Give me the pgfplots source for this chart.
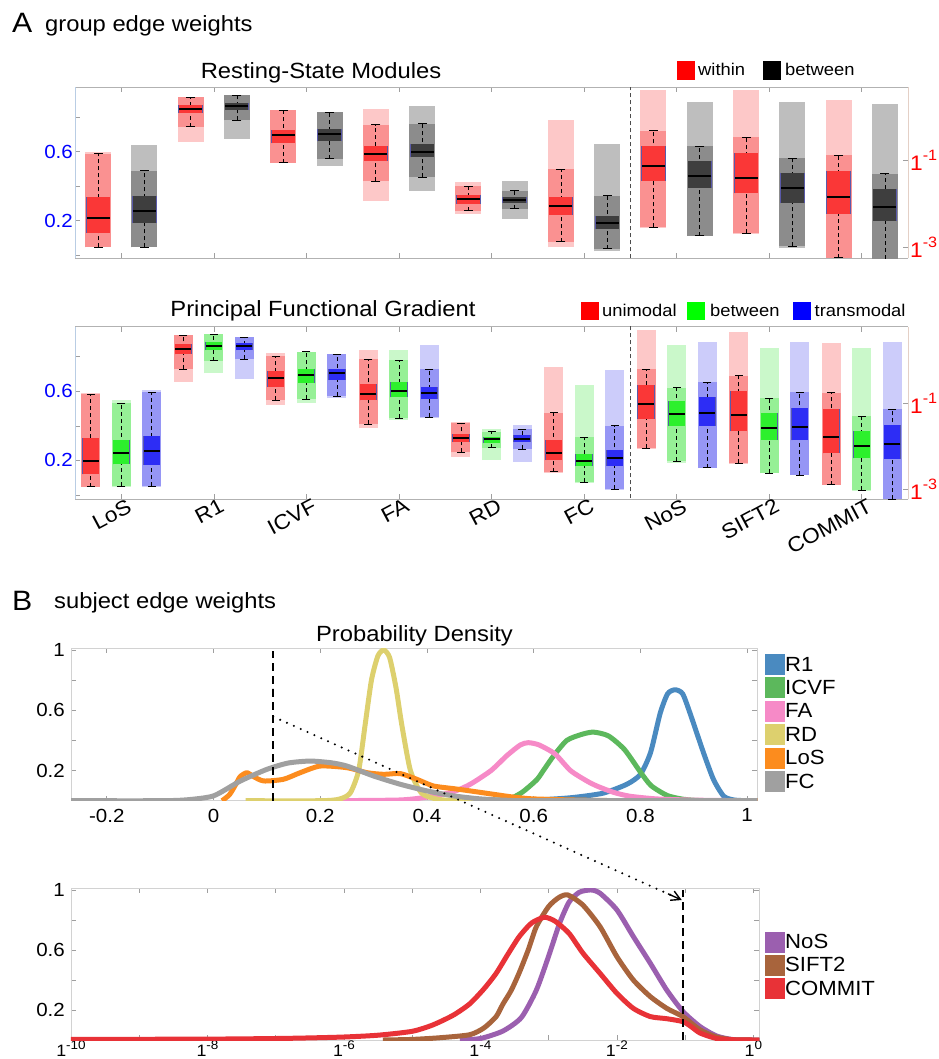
\documentclass[border=0pt]{standalone}
\usepackage{fontspec}
\setmainfont{Liberation Sans}[FakeStretch=1.08]
\usepackage{pgfplots}
\pgfplotsset{compat=1.18}
\usetikzlibrary{arrows.meta}

\definecolor{rB}{RGB}{250,55,55}\definecolor{rM}{RGB}{250,145,145}\definecolor{rL}{RGB}{253,200,200}
\definecolor{kB}{RGB}{62,62,62}\definecolor{kM}{RGB}{140,140,140}\definecolor{kL}{RGB}{190,190,190}
\definecolor{gB}{RGB}{45,240,45}\definecolor{gM}{RGB}{150,240,150}\definecolor{gL}{RGB}{202,248,202}
\definecolor{bB}{RGB}{45,45,245}\definecolor{bM}{RGB}{150,150,245}\definecolor{bL}{RGB}{204,204,250}
\definecolor{edgec}{RGB}{90,90,170}
\definecolor{axL}{RGB}{185,205,228}
\definecolor{axR}{RGB}{228,208,198}
\definecolor{cR1}{RGB}{74,138,192}
\definecolor{cICVF}{RGB}{92,184,92}
\definecolor{cFA}{RGB}{246,138,199}
\definecolor{cRD}{RGB}{221,208,110}
\definecolor{cLoS}{RGB}{252,140,30}
\definecolor{cFC}{RGB}{160,160,160}
\definecolor{cNoS}{RGB}{155,95,175}
\definecolor{cSIFT}{RGB}{168,100,60}
\definecolor{cCOM}{RGB}{232,50,55}

\newcommand{\rlab}[1]{1\raisebox{10pt}{\fontsize{15}{15}\selectfont #1}}
\newcommand{\blab}[1]{1\raisebox{6.5pt}{\fontsize{12.5}{12.5}\selectfont #1}}

% pos, colour, cloud low, cloud high, lower whisker, q1, median, q3, upper whisker
\newcommand{\bx}[9]{%
  \addplot[draw=#2L, line width=\cw] coordinates {(#1,#3) (#1,#4)};
  \addplot[draw=#2M, line width=\cw] coordinates {(#1,#5) (#1,#9)};
  \addplot[draw=black, line width=0.7pt, dash pattern=on 4pt off 3pt] coordinates {(#1,#5) (#1,#9)};
  \addplot[only marks, mark=-, mark size=\capw, mark options={draw=black, line width=0.8pt}] coordinates {(#1,#5) (#1,#9)};
  \addplot[draw=edgec, line width=\bwo] coordinates {(#1,#6) (#1,#8)};
  \addplot[draw=#2B, line width=\bw] coordinates {(#1,#6) (#1,#8)};
  \addplot[only marks, mark=-, mark size=\mw, mark options={draw=black, line width=2pt}] coordinates {(#1,#7)};
}

\pgfplotsset{
  base/.style={scale only axis, tick align=inside, major tick length=5pt,
    every tick/.append style={gray!75, line width=0.6pt},
    tick label style={font=\fontsize{19}{19}\selectfont},
    /pgf/number format/assume math mode=true},
}

\begin{document}
\begin{tikzpicture}
\path[use as bounding box] (0,0) rectangle (938pt,-1059pt);

% ---------------- Panel A, top ----------------
\def\cw{26pt}\def\bw{23pt}\def\bwo{24.4pt}\def\mw{11.5pt}\def\capw{4.5pt}
\begin{axis}[base, at={(75pt,-258pt)}, anchor=south west, width=833pt, height=171pt,
  xmin=-0.5, xmax=8.5, ymin=-0.017, ymax=0.974,
  xtick={0,1,2,3,4,5,6,7,8}, xticklabels={}, xtick pos=both,
  ytick={0,0.2,0.4,0.6,0.8}, yticklabels={,0.2,,0.6,}, ytick pos=left,
  yticklabel style={text=blue, inner sep=2pt},
  separate axis lines, x axis line style={gray!60, line width=0.8pt},
  y axis line style={axL, line width=0.8pt}]
\addplot[draw=black!70, line width=0.8pt, dash pattern=on 4pt off 3pt] coordinates {(5.5,-0.1) (5.5,1.1)};
\bx{-0.25}{r}{0.045}{0.600}{0.045}{0.129}{0.213}{0.335}{0.587}
\bx{0.25}{k}{0.045}{0.635}{0.045}{0.187}{0.258}{0.345}{0.490}
\bx{0.75}{r}{0.654}{0.915}{0.745}{0.822}{0.849}{0.872}{0.915}
\bx{1.25}{k}{0.674}{0.925}{0.780}{0.842}{0.863}{0.884}{0.925}
\bx{1.75}{r}{0.533}{0.842}{0.536}{0.648}{0.695}{0.726}{0.838}
\bx{2.25}{k}{0.519}{0.828}{0.559}{0.660}{0.703}{0.733}{0.828}
\bx{2.75}{r}{0.316}{0.847}{0.428}{0.548}{0.584}{0.631}{0.756}
\bx{3.25}{k}{0.374}{0.861}{0.451}{0.567}{0.600}{0.641}{0.761}
\bx{3.75}{r}{0.239}{0.422}{0.258}{0.297}{0.324}{0.351}{0.399}
\bx{4.25}{k}{0.210}{0.428}{0.268}{0.304}{0.322}{0.339}{0.374}
\bx{4.75}{r}{0.045}{0.780}{0.077}{0.233}{0.283}{0.339}{0.496}
\bx{5.25}{k}{0.022}{0.645}{0.036}{0.150}{0.188}{0.225}{0.343}
\bx{5.75}{r}{0.155}{0.958}{0.161}{0.430}{0.517}{0.631}{0.720}
\bx{6.25}{k}{0.110}{0.886}{0.113}{0.391}{0.461}{0.546}{0.631}
\bx{6.75}{r}{0.120}{0.958}{0.126}{0.357}{0.449}{0.590}{0.683}
\bx{7.25}{k}{0.040}{0.886}{0.051}{0.304}{0.386}{0.478}{0.563}
\bx{7.75}{r}{-0.010}{0.896}{-0.016}{0.239}{0.335}{0.486}{0.579}
\bx{8.25}{k}{-0.020}{0.877}{-0.022}{0.198}{0.279}{0.381}{0.471}
\end{axis}
\begin{axis}[base, at={(75pt,-258pt)}, anchor=south west, width=833pt, height=171pt,
  xmin=0, xmax=1, ymin=0, ymax=1, axis x line=none, axis y line*=right,
  ytick={0.0626,0.569}, yticklabels={\rlab{-3},\rlab{-1}},
  yticklabel style={text=red, font=\fontsize{21}{21}\selectfont, inner sep=2pt},
  y axis line style={axR, line width=0.8pt}]
\end{axis}

% ---------------- Panel A, bottom ----------------
\def\cw{19pt}\def\bw{16pt}\def\bwo{17.2pt}\def\mw{8pt}\def\capw{4pt}
\begin{axis}[base, at={(75pt,-499.3pt)}, anchor=south west, width=833pt, height=172.6pt,
  xmin=-0.5, xmax=8.5, ymin=-0.025, ymax=0.974,
  xtick={0,1,2,3,4,5,6,7,8}, xticklabels={LoS,R1,ICVF,FA,RD,FC,NoS,SIFT2,COMMIT}, xtick pos=both,
  xticklabel style={rotate=28, anchor=north east, font=\fontsize{21}{21}\selectfont, inner sep=1pt, xshift=6pt},
  ytick={0,0.2,0.4,0.6,0.8}, yticklabels={,0.2,,0.6,}, ytick pos=left,
  yticklabel style={text=blue, inner sep=2pt},
  separate axis lines, x axis line style={gray!60, line width=0.8pt},
  y axis line style={axL, line width=0.8pt}]
\addplot[draw=black!70, line width=0.8pt, dash pattern=on 4pt off 3pt] coordinates {(5.5,-0.1) (5.5,1.1)};
\bx{-0.33}{r}{0.045}{0.588}{0.048}{0.120}{0.195}{0.332}{0.584}
\bx{0}{g}{0.045}{0.549}{0.052}{0.177}{0.241}{0.320}{0.530}
\bx{0.33}{b}{0.045}{0.607}{0.052}{0.175}{0.253}{0.343}{0.594}
\bx{0.67}{r}{0.655}{0.925}{0.727}{0.814}{0.843}{0.873}{0.925}
\bx{1}{g}{0.704}{0.931}{0.777}{0.839}{0.864}{0.887}{0.930}
\bx{1.33}{b}{0.669}{0.916}{0.785}{0.839}{0.860}{0.881}{0.912}
\bx{1.67}{r}{0.521}{0.823}{0.549}{0.626}{0.677}{0.715}{0.804}
\bx{2}{g}{0.530}{0.829}{0.555}{0.650}{0.696}{0.729}{0.829}
\bx{2.33}{b}{0.560}{0.814}{0.573}{0.665}{0.704}{0.731}{0.814}
\bx{2.67}{r}{0.386}{0.839}{0.409}{0.548}{0.582}{0.642}{0.785}
\bx{3}{g}{0.434}{0.839}{0.445}{0.565}{0.600}{0.654}{0.779}
\bx{3.33}{b}{0.447}{0.868}{0.449}{0.555}{0.592}{0.625}{0.729}
\bx{3.67}{r}{0.222}{0.424}{0.247}{0.308}{0.332}{0.351}{0.414}
\bx{4}{g}{0.202}{0.380}{0.274}{0.303}{0.322}{0.337}{0.366}
\bx{4.33}{b}{0.193}{0.405}{0.266}{0.305}{0.324}{0.345}{0.380}
\bx{4.67}{r}{0.130}{0.742}{0.135}{0.202}{0.245}{0.318}{0.476}
\bx{5}{g}{0.067}{0.636}{0.073}{0.168}{0.198}{0.237}{0.335}
\bx{5.33}{b}{0.029}{0.723}{0.033}{0.168}{0.216}{0.260}{0.401}
\bx{5.67}{r}{0.265}{0.954}{0.272}{0.438}{0.526}{0.636}{0.729}
\bx{6}{g}{0.187}{0.868}{0.197}{0.401}{0.468}{0.544}{0.621}
\bx{6.33}{b}{0.154}{0.887}{0.158}{0.401}{0.476}{0.567}{0.652}
\bx{6.67}{r}{0.180}{0.945}{0.183}{0.368}{0.461}{0.601}{0.690}
\bx{7}{g}{0.125}{0.848}{0.127}{0.320}{0.389}{0.474}{0.559}
\bx{7.33}{b}{0.116}{0.887}{0.116}{0.316}{0.395}{0.505}{0.594}
\bx{7.67}{r}{0.058}{0.877}{0.060}{0.241}{0.335}{0.497}{0.592}
\bx{8}{g}{0.025}{0.848}{0.029}{0.212}{0.283}{0.370}{0.455}
\bx{8.33}{b}{0.020}{0.887}{-0.025}{0.210}{0.295}{0.405}{0.497}
\end{axis}
\begin{axis}[base, at={(75pt,-499.3pt)}, anchor=south west, width=833pt, height=172.6pt,
  xmin=0, xmax=1, ymin=0, ymax=1, axis x line=none, axis y line*=right,
  ytick={0.058,0.556}, yticklabels={\rlab{-3},\rlab{-1}},
  yticklabel style={text=red, font=\fontsize{21}{21}\selectfont, inner sep=2pt},
  y axis line style={axR, line width=0.8pt}]
\end{axis}

% ---------------- Panel B, top ----------------
\begin{axis}[base, at={(71pt,-800.7pt)}, anchor=south west, width=686.3pt, height=152.4pt,
  xmin=-0.267, xmax=1.019, ymin=0, ymax=1.011,
  xtick={-0.2,0,0.2,0.4,0.6,0.8,1}, xticklabels={-0.2,0,0.2,0.4,0.6,0.8,1},
  ytick={0.2,0.4,0.6,0.8,1}, yticklabels={0.2,,0.6,,1},
  axis line style={gray!35, line width=0.8pt},
  xticklabel style={inner sep=2pt, yshift=-6pt},
  yticklabel style={inner sep=2pt, xshift=-4pt},
  every axis plot/.append style={line width=5pt, smooth, tension=0.4, line join=round}]
\addplot[cR1] coordinates {(0.45,0) (0.6,0.005) (0.67,0.02) (0.73,0.05) (0.775,0.11) (0.8,0.175) (0.819,0.32) (0.837,0.58) (0.851,0.71) (0.865,0.736) (0.879,0.71) (0.893,0.58) (0.918,0.32) (0.937,0.14) (0.956,0.03) (0.975,0.005) (1.0,0) (1.02,0)};
\addplot[cICVF] coordinates {(0.45,0) (0.54,0.005) (0.56,0.02) (0.58,0.06) (0.606,0.14) (0.62,0.21) (0.637,0.296) (0.662,0.4) (0.69,0.44) (0.712,0.455) (0.74,0.43) (0.77,0.34) (0.8,0.19) (0.82,0.1) (0.85,0.035) (0.88,0.01) (0.92,0) (1.02,0)};
\addplot[cFA] coordinates {(0.2,0) (0.35,0.005) (0.412,0.03) (0.45,0.06) (0.481,0.109) (0.52,0.2) (0.55,0.3) (0.575,0.37) (0.59,0.385) (0.61,0.37) (0.64,0.31) (0.669,0.2) (0.7,0.13) (0.72,0.095) (0.75,0.055) (0.78,0.03) (0.83,0.012) (0.9,0.004) (1.0,0) (1.02,0)};
\addplot[cRD] coordinates {(0.06,0) (0.2,0) (0.235,0.01) (0.256,0.05) (0.272,0.2) (0.284,0.5) (0.296,0.8) (0.308,0.96) (0.319,1.0) (0.33,0.95) (0.342,0.75) (0.353,0.5) (0.369,0.2) (0.39,0.05) (0.42,0.01) (0.46,0) (0.55,0)};
\addplot[cLoS] coordinates {(0.016,0) (0.03,0.04) (0.042,0.11) (0.05,0.16) (0.0626,0.186) (0.075,0.16) (0.094,0.131) (0.131,0.142) (0.1625,0.186) (0.2,0.23) (0.25,0.219) (0.2875,0.186) (0.319,0.175) (0.35,0.18) (0.381,0.142) (0.412,0.098) (0.45,0.08) (0.481,0.065) (0.52,0.045) (0.56,0.025) (0.6,0.012) (0.7,0.003) (0.8,0) (1.02,0)};
\addplot[cFC] coordinates {(-0.267,0) (-0.1,0) (-0.05,0.006) (0,0.032) (0.05,0.13) (0.1,0.208) (0.14,0.25) (0.181,0.263) (0.22,0.252) (0.25,0.23) (0.3,0.164) (0.35,0.109) (0.4,0.065) (0.45,0.032) (0.5,0.012) (0.55,0.003) (0.6,0) (1.02,0)};
\addplot[black, line width=2.2pt, dash pattern=on 8pt off 5pt] coordinates {(0.112,0) (0.112,0.993)};
\end{axis}

% ---------------- Panel B, bottom ----------------
\begin{axis}[base, at={(71pt,-1040pt)}, anchor=south west, width=688.3pt, height=151.7pt,
  xmode=log, xmin=1e-10, xmax=1.22, ymin=0, ymax=1.011, xminorticks=false,
  xtick={1e-10,1e-9,1e-8,1e-7,1e-6,1e-5,1e-4,1e-3,1e-2,1e-1,1},
  xticklabels={\blab{-10},,\blab{-8},,\blab{-6},,\blab{-4},,\blab{-2},,\blab{0}},
  ytick={0.2,0.4,0.6,0.8,1}, yticklabels={0.2,,0.6,,1},
  axis line style={gray!35, line width=0.8pt},
  xticklabel style={inner sep=1pt, font=\fontsize{16.5}{16.5}\selectfont},
  yticklabel style={inner sep=2pt, xshift=-4pt},
  every axis plot/.append style={line width=5pt, smooth, tension=0.4, line join=round}]
\addplot[cNoS] coordinates {(5.012e-5,0) (1e-4,0.01) (2.138e-4,0.06) (3.981e-4,0.15) (6.607e-4,0.333) (1e-3,0.56) (1.445e-3,0.778) (1.995e-3,0.92) (2.818e-3,0.985) (4.169e-3,1.0) (5.662e-3,0.978) (1e-2,0.867) (1.738e-2,0.69) (3.090e-2,0.511) (5.370e-2,0.333) (9.333e-2,0.189) (0.1660,0.089) (0.2884,0.027) (0.5012,0.003) (1,0) (1.22,0)};
\addplot[cSIFT] coordinates {(3.715e-6,0) (1e-5,0.004) (2.512e-5,0.015) (6.918e-5,0.035) (1.122e-4,0.08) (1.698e-4,0.156) (2.138e-4,0.24) (2.818e-4,0.33) (3.715e-4,0.45) (5.012e-4,0.6) (6.607e-4,0.756) (1e-3,0.89) (1.413e-3,0.95) (1.905e-3,0.967) (3.162e-3,0.9) (5.662e-3,0.755) (1e-2,0.555) (1.738e-2,0.4) (3.090e-2,0.289) (5.370e-2,0.211) (9.333e-2,0.155) (0.1660,0.067) (0.2884,0.02) (0.5012,0.002) (1,0) (1.22,0)};
\addplot[cCOM] coordinates {(1e-10,0.004) (1e-8,0.006) (1e-7,0.01) (3.162e-7,0.014) (1e-6,0.02) (3.162e-6,0.032) (1e-5,0.058) (1.995e-5,0.1) (3.981e-5,0.165) (6.918e-5,0.24) (1.122e-4,0.34) (1.698e-4,0.444) (2.512e-4,0.57) (3.715e-4,0.69) (5.623e-4,0.78) (8.710e-4,0.818) (1.259e-3,0.79) (1.995e-3,0.71) (3.162e-3,0.58) (5.662e-3,0.444) (1e-2,0.311) (1.738e-2,0.211) (3.090e-2,0.156) (5.370e-2,0.142) (9.333e-2,0.122) (0.1259,0.085) (0.1660,0.046) (0.2884,0.01) (0.5012,0.002) (1,0) (1.22,0)};
\addplot[black, line width=2.2pt, dash pattern=on 8pt off 5pt] coordinates {(0.092,0) (0.092,1.0)};
\end{axis}

% ---------------- annotations ----------------
\node[anchor=base west, inner sep=0] at (12pt,-33pt) {\fontsize{28}{28}\selectfont A};
\node[anchor=base west, inner sep=0] at (45pt,-31.7pt) {\fontsize{22}{22}\selectfont group edge weights};
\node[anchor=base, inner sep=0] at (321pt,-78.3pt) {\fontsize{22}{22}\selectfont Resting-State Modules};
\node[anchor=base, inner sep=0] at (323pt,-316.7pt) {\fontsize{22}{22}\selectfont Principal Functional Gradient};
\node[anchor=base west, inner sep=0] at (12pt,-610pt) {\fontsize{28}{28}\selectfont B};
\node[anchor=base west, inner sep=0] at (54pt,-608.3pt) {\fontsize{22}{22}\selectfont subject edge weights};
\node[anchor=base, inner sep=0] at (414.5pt,-641pt) {\fontsize{22}{22}\selectfont Probability Density};

% legend A top
\fill[red] (677pt,-61pt) rectangle (695pt,-80pt);
\node[anchor=base west, inner sep=0] at (698pt,-76pt) {\fontsize{17}{17}\selectfont within};
\fill[black] (763pt,-61pt) rectangle (781pt,-80pt);
\node[anchor=base west, inner sep=0] at (785pt,-76pt) {\fontsize{17}{17}\selectfont between};
% legend A bottom
\fill[red] (581pt,-301.7pt) rectangle (599pt,-320pt);
\node[anchor=base west, inner sep=0] at (602pt,-316.7pt) {\fontsize{17}{17}\selectfont unimodal};
\fill[green] (687pt,-301.7pt) rectangle (705pt,-320pt);
\node[anchor=base west, inner sep=0] at (710pt,-316.7pt) {\fontsize{17}{17}\selectfont between};
\fill[blue] (793pt,-301.7pt) rectangle (811pt,-320pt);
\node[anchor=base west, inner sep=0] at (814.5pt,-316.7pt) {\fontsize{17}{17}\selectfont transmodal};

% legend B top
\foreach \c/\t/\yt in {cR1/R1/654, cICVF/ICVF/677.4, cFA/FA/700.8, cRD/RD/724.2, cLoS/LoS/747.6, cFC/FC/771}{
  \fill[\c] (765pt,-\yt pt) rectangle (785pt,-\yt pt-21pt);
  \node[anchor=base west, inner sep=0] at (785pt,-\yt pt-17pt) {\fontsize{20.5}{20.5}\selectfont \t};
}
% legend B bottom
\foreach \c/\t/\yt in {cNoS/NoS/931.5, cSIFT/SIFT2/954.8, cCOM/COMMIT/978}{
  \fill[\c] (765pt,-\yt pt) rectangle (785pt,-\yt pt-21pt);
  \node[anchor=base west, inner sep=0] at (785pt,-\yt pt-17pt) {\fontsize{20.5}{20.5}\selectfont \t};
}

% dotted arrow between the panels
\draw[line width=2.3pt, dash pattern=on 0pt off 7.5pt, line cap=round] (273.3pt,-716.7pt) -- (676pt,-897.4pt);
\draw[line width=1.4pt, -{Straight Barb[length=9pt,width=10pt]}] (668pt,-893.8pt) -- (681.7pt,-900pt);
\end{tikzpicture}
\end{document}
